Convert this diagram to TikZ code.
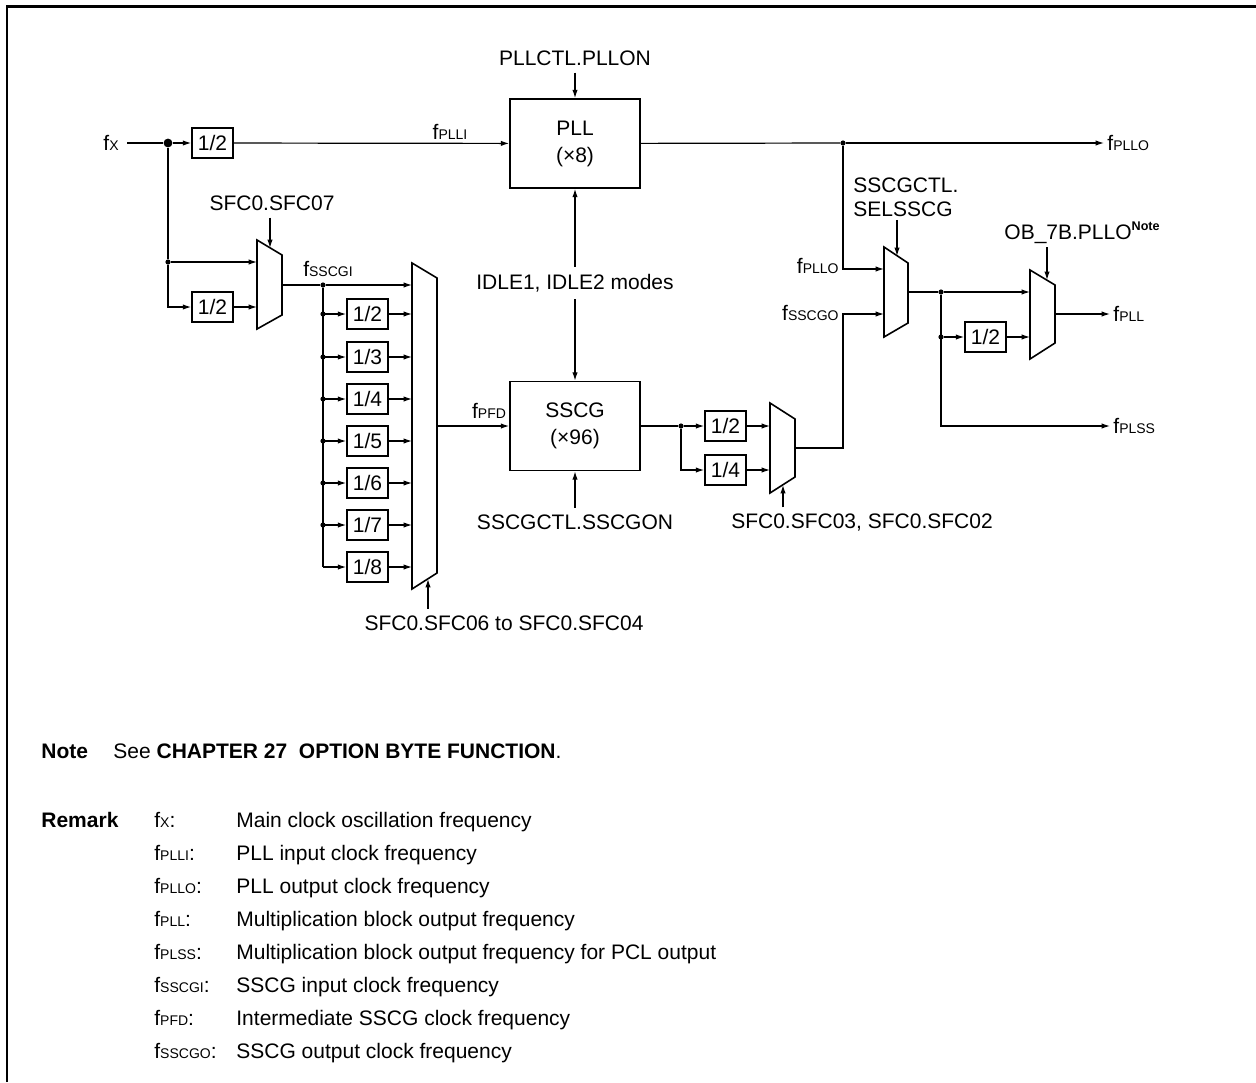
\documentclass[tikz,border=0pt]{standalone}
\usepackage{fontspec}
\setmainfont{Liberation Sans}
\usetikzlibrary{arrows.meta,calc}
\newcommand{\fq}[1]{f{\fontsize{7}{8}\selectfont #1}}
\newcommand{\txs}{\fontsize{10.5}{12}\selectfont}
\newcommand{\notesup}{\raisebox{0.42em}{\fontsize{6.3}{7}\selectfont\bfseries Note}}
\begin{document}
\begin{tikzpicture}[x=0.5pt,y=-0.5pt,
  font=\txs,
  wire/.style={line width=0.6pt},
  arr/.style={line width=0.6pt,-{Latex[length=4.2pt,width=2.7pt]}},
  divbox/.style={draw,line width=0.8pt,minimum width=20.5pt,minimum height=15pt,inner sep=0pt},
  blk/.style={draw,line width=0.8pt,minimum width=65pt,minimum height=44.5pt,align=center,inner sep=0pt,font=\fontsize{10.5}{13.5}\selectfont},
  mux/.style={draw,line width=0.8pt},
  jdot/.style={circle,fill,inner sep=0pt,minimum size=2.6pt},
  bigjdot/.style={circle,fill,inner sep=0pt,minimum size=4.4pt},
  lbl/.style={inner sep=1.5pt},
  txt/.style={anchor=base west,inner sep=0pt},
]
\useasboundingbox (0,0) rectangle (1256,1082);
\draw[line width=1.4pt] (7,1082) -- (7,6.5) -- (1256,6.5);

% ---------- input and PLL ----------
\node[lbl,anchor=east,inner sep=4pt] (fx) at (127,143) {\fq{X}};
\node[bigjdot] (j0) at (168,143) {};
\node[divbox] (dv0) at (212.5,143) {1/2};
\node[blk] (pll) at (575,143.5) {PLL\\(×8)};
\node[lbl,anchor=south] (lplli) at (450,143) {\fq{PLLI}};
\draw[wire] (fx) -- (j0);
\draw[arr] (j0) -- (dv0);
\draw[arr] (dv0) -- (pll);
\node (pllon) at (575,58) {PLLCTL.PLLON};
\draw[arr] (pllon) -- (pll);
\node[jdot] (j1) at (843,143) {};
\node[lbl,anchor=west] (fpllo) at (1104,143) {\fq{PLLO}};
\draw[wire] (pll) -- (j1);
\draw[arr] (j1) -- (fpllo);

% ---------- IDLE and SSCG ----------
\node (idle) at (575,283) {IDLE1, IDLE2 modes};
\node[blk] (sscg) at (575,426) {SSCG\\(×96)};
\draw[arr] (idle) -- (pll);
\draw[arr] (idle) -- (sscg);
\node (sscgon) at (575,522) {SSCGCTL.SSCGON};
\draw[arr] (sscgon) -- (sscg);

% ---------- small input mux ----------
\draw[mux] (257,240) -- (282,255) -- (282,315) -- (257,329) -- cycle;
\coordinate (smo) at (282,285);
\coordinate (smi1) at (257,262);
\coordinate (smi2) at (257,307);
\coordinate (smc) at (270,248);
\node[jdot] (j2) at (168,262) {};
\node[divbox] (dv1) at (212.5,307) {1/2};
\draw[wire] (j0) -- (j2);
\draw[arr] (j2) |- (dv1);
\draw[arr] (j2) -- (smi1);
\draw[arr] (dv1) -- (smi2);
\node (sfc07) at (272,203) {SFC0.SFC07};
\draw[arr] (sfc07.south -| smc) -- (smc);

% ---------- divider column and big mux ----------
\draw[mux] (412,263) -- (437,278) -- (437,573) -- (412,589) -- cycle;
\coordinate (bmo) at (437,426);
\coordinate (bmc) at (428,579);
\coordinate (bmi0) at (412,285);
\node[jdot] (js0) at (323,285) {};
\node[lbl,anchor=south] (lsscgi) at (328,280) {\fq{SSCGI}};
\draw[wire] (smo) -- (js0);
\draw[arr] (js0) -- (bmi0);
\foreach \i/\y/\t in {1/314/2,2/357/3,3/399/4,4/441/5,5/483/6,6/525/7,7/567/8}{
  \node[divbox] (dvr\i) at (367.5,\y) {1/\t};
  \coordinate (bmi\i) at (412,\y);
  \coordinate (bus\i) at (323,\y);
  \draw[arr] (bus\i) -- (dvr\i);
  \draw[arr] (dvr\i) -- (bmi\i);
}
\foreach \i in {1,...,6}{\node[jdot] at (bus\i) {};}
\draw[wire] (js0) -- (bus7);
\node[lbl,anchor=south] (lpfd) at (489,422) {\fq{PFD}};
\draw[arr] (bmo) -- (sscg);
\node (sfc06) at (504,623) {SFC0.SFC06 to SFC0.SFC04};
\draw[arr] (sfc06.north -| bmc) -- (bmc);

% ---------- SSCG output dividers ----------
\node[jdot] (j3) at (681,426) {};
\node[divbox] (dq2) at (725.5,426) {1/2};
\node[divbox] (dq4) at (725.5,470) {1/4};
\draw[wire] (sscg) -- (j3);
\draw[arr] (j3) -- (dq2);
\draw[arr] (j3) |- (dq4);
\draw[mux] (770,403) -- (795,419) -- (795,477) -- (770,493) -- cycle;
\coordinate (m2i1) at (770,426);
\coordinate (m2i2) at (770,470);
\coordinate (m2o) at (795,448);
\coordinate (m2c) at (783,485);
\draw[arr] (dq2) -- (m2i1);
\draw[arr] (dq4) -- (m2i2);
\node (sfc03) at (862,523) {SFC0.SFC03, SFC0.SFC02};
\draw[arr] (sfc03.north -| m2c) -- (m2c);

% ---------- SELSSCG mux ----------
\draw[mux] (884,247) -- (908,263) -- (908,323) -- (884,337) -- cycle;
\coordinate (m3i1) at (884,269);
\coordinate (m3i2) at (884,314);
\coordinate (m3o) at (908,292);
\coordinate (m3c) at (897,256);
\coordinate (c1) at (843,269);
\coordinate (c2) at (843,314);
\draw[arr] (j1) -- (c1) -- (m3i1);
\draw[arr] (m2o) -| (c2) -- (m3i2);
\node[lbl,anchor=east] (lpllo2) at (842,266) {\fq{PLLO}};
\node[lbl,anchor=east] (lsscgo) at (842,313) {\fq{SSCGO}};
\node[lbl,align=left,anchor=west] (selsscg) at (850,197) {SSCGCTL.\\SELSSCG};
\draw[arr] (selsscg.south -| m3c) -- (m3c);

% ---------- output mux ----------
\node[jdot] (j4) at (941,292) {};
\node[jdot] (j5) at (941,337) {};
\draw[wire] (m3o) -- (j4);
\draw[mux] (1030,270) -- (1055,285) -- (1055,343) -- (1030,359) -- cycle;
\coordinate (m4i1) at (1030,292);
\coordinate (m4i2) at (1030,337);
\coordinate (m4o) at (1055,314);
\coordinate (m4c) at (1047,280);
\draw[arr] (j4) -- (m4i1);
\node[divbox] (dv3) at (985.5,337) {1/2};
\draw[arr] (j5) -- (dv3);
\draw[arr] (dv3) -- (m4i2);
\node[lbl,anchor=west] (fpll) at (1110,314) {\fq{PLL}};
\draw[arr] (m4o) -- (fpll);
\node[lbl,anchor=west] (fplss) at (1110,426) {\fq{PLSS}};
\draw[arr] (j4) |- (fplss);
\node[lbl,anchor=west] (ob) at (1001,233) {OB\_7B.PLLO\notesup};
\draw[arr] (ob.south -| m4c) -- (m4c);

% ---------- notes ----------
\node[txt] (note) at (41,758) {\bfseries Note};
\node[txt] (see) at (113,758) {See \textbf{CHAPTER 27\ \ OPTION BYTE FUNCTION}.};
\node[txt] (rmk) at (41,827) {\bfseries Remark};
\node[txt] (rk0) at (154,827) {\fq{X}:};
\node[txt] (rd0) at (236,827) {Main clock oscillation frequency};
\node[txt] (rk1) at (154,860) {\fq{PLLI}:};
\node[txt] (rd1) at (236,860) {PLL input clock frequency};
\node[txt] (rk2) at (154,893) {\fq{PLLO}:};
\node[txt] (rd2) at (236,893) {PLL output clock frequency};
\node[txt] (rk3) at (154,926) {\fq{PLL}:};
\node[txt] (rd3) at (236,926) {Multiplication block output frequency};
\node[txt] (rk4) at (154,959) {\fq{PLSS}:};
\node[txt] (rd4) at (236,959) {Multiplication block output frequency for PCL output};
\node[txt] (rk5) at (154,992) {\fq{SSCGI}:};
\node[txt] (rd5) at (236,992) {SSCG input clock frequency};
\node[txt] (rk6) at (154,1025) {\fq{PFD}:};
\node[txt] (rd6) at (236,1025) {Intermediate SSCG clock frequency};
\node[txt] (rk7) at (154,1058) {\fq{SSCGO}:};
\node[txt] (rd7) at (236,1058) {SSCG output clock frequency};
\end{tikzpicture}
\end{document}
